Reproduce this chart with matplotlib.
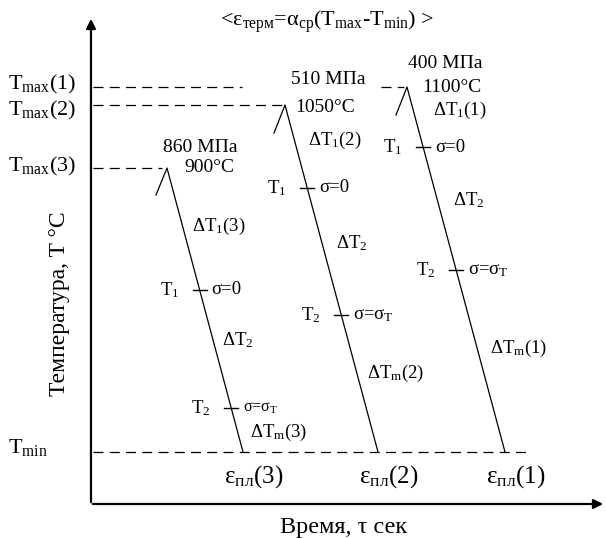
import matplotlib
matplotlib.use("Agg")
import matplotlib.pyplot as plt

plt.rcParams['font.family'] = ['Liberation Serif', 'DejaVu Serif']
plt.rcParams['mathtext.fontset'] = 'custom'
plt.rcParams['mathtext.rm'] = 'Liberation Serif'
plt.rcParams['mathtext.it'] = 'Liberation Serif'
plt.rcParams['mathtext.bf'] = 'Liberation Serif'

# schematic cycles (1), (2), (3), in picture pixel units
cycles = ["1", "2", "3"]
peak_x = [407, 285, 167]
peak_y = [87, 105, 168]
stub_x = [396, 274, 156]
stub_y = [115, 133, 195]
end_x = [505, 378, 243]
t_min_y = 452
dash_end = [242, 283, 162]
stress = ["400 МПа", "510 МПа", "860 МПа"]
temps = ["1100°C", "1050°C", "900°C"]
t1_y = [147, 188, 290]
t2_y = [270, 315, 408]


def sub(main, low, tail=''):
    # text with a Word-like subscript
    s = r'\text{' + main + '}_{\\text{' + low + '}}'
    if tail:
        s += r'\text{' + tail + '}'
    return s


fig = plt.figure(figsize=(6.07, 5.38), dpi=100)
ax = fig.add_axes([0, 0, 1, 1])
ax.set_xlim(0, 607)
ax.set_ylim(538, 0)
ax.axis('off')

k = 'black'
# axes with arrows
ax.annotate('', xy=(91, 16), xytext=(91, 505),
            arrowprops=dict(arrowstyle='-|>', color=k, lw=1.6, mutation_scale=14))
ax.annotate('', xy=(606, 504), xytext=(90, 504),
            arrowprops=dict(arrowstyle='-|>', color=k, lw=1.6, mutation_scale=14))

dash = dict(color=k, lw=0.9, dashes=(8, 5))
for i in range(3):
    ax.plot([93, dash_end[i]], [peak_y[i], peak_y[i]], **dash)
ax.plot([381, peak_x[0] - 3], [peak_y[0], peak_y[0]], **dash)
ax.plot([93, 530], [t_min_y, t_min_y], **dash)


def x_on(i, y):
    return peak_x[i] + (y - peak_y[i]) * (end_x[i] - peak_x[i]) / (t_min_y - peak_y[i])


for i in range(3):
    ax.plot([stub_x[i], peak_x[i], end_x[i]], [stub_y[i], peak_y[i], t_min_y],
            color=k, lw=0.9)
    for y in (t1_y[i], t2_y[i]):
        xc = x_on(i, y)
        ax.plot([xc - 7, xc + 7], [y, y], color=k, lw=1.0)

fs = 13.5
T = dict(ha='left', va='center', fontsize=fs, color=k)

# left labels
for y, c in zip([84, 110, 166], cycles):
    ax.text(8, y, '$' + sub('T', 'max', '(' + c + ')') + '$', fontsize=16,
            ha='left', va='center')
ax.text(8, 448, '$' + sub('T', 'min') + '$', fontsize=16, ha='left', va='center')

title = ('$' + r'\text{<}' + sub('ε', 'терм', '=') + sub('α', 'ср', '(')
         + sub('T', 'max', '-') + sub('T', 'min', ') >') + '$')
ax.text(327, 22, title, fontsize=16, ha='center', va='center')
ax.text(60, 304, 'Температура, T °C', fontsize=17, rotation=90,
        ha='center', va='center')
ax.text(344, 527, 'Время, τ сек', fontsize=17.5, ha='center', va='center')

# stress / temperature labels
ax.text(445, 63, stress[0], fontsize=14, ha='center', va='center')
ax.text(452, 87, temps[0], fontsize=14, ha='center', va='center')
ax.text(328, 80, stress[1], fontsize=14, ha='center', va='center')
ax.text(325, 107, temps[1], fontsize=14, ha='center', va='center')
ax.text(200, 147, stress[2], fontsize=14, ha='center', va='center')
ax.text(209, 167, temps[2], fontsize=14, ha='center', va='center')

# delta labels
ax.text(433, 110, '$' + sub('ΔT', '1', '(1)') + '$', **T)
ax.text(308, 140, '$' + sub('ΔT', '1', '(2)') + '$', **T)
ax.text(192, 226, '$' + sub('ΔT', '1', '(3)') + '$', **T)
ax.text(453, 200, '$' + sub('ΔT', '2') + '$', **T)
ax.text(336, 243, '$' + sub('ΔT', '2') + '$', **T)
ax.text(222, 340, '$' + sub('ΔT', '2') + '$', **T)
ax.text(490, 348, '$' + sub('ΔT', 'm', '(1)') + '$', **T)
ax.text(367, 373, '$' + sub('ΔT', 'm', '(2)') + '$', **T)
ax.text(250, 432, '$' + sub('ΔT', 'm', '(3)') + '$', **T)

# T1 / T2 marks
for i in range(3):
    x1 = x_on(i, t1_y[i])
    x2 = x_on(i, t2_y[i])
    ax.text(x1 - 40, t1_y[i], '$' + sub('T', '1') + '$', **T)
    ax.text(x1 + 12, t1_y[i], 'σ=0', **T)
    ax.text(x2 - 40, t2_y[i], '$' + sub('T', '2') + '$', **T)
    ax.text(x2 + 12, t2_y[i], '$' + sub('σ=σ', 'T') + '$',
            ha='left', va='center', fontsize=fs if i < 2 else 11.5)

# plastic strain labels
for xe, c in zip(end_x, cycles):
    ax.text(xe + 11, 477, '$' + sub('ε', 'пл', '(' + c + ')') + '$', fontsize=18,
            ha='center', va='center')

fig.savefig('out.png', dpi=100)
